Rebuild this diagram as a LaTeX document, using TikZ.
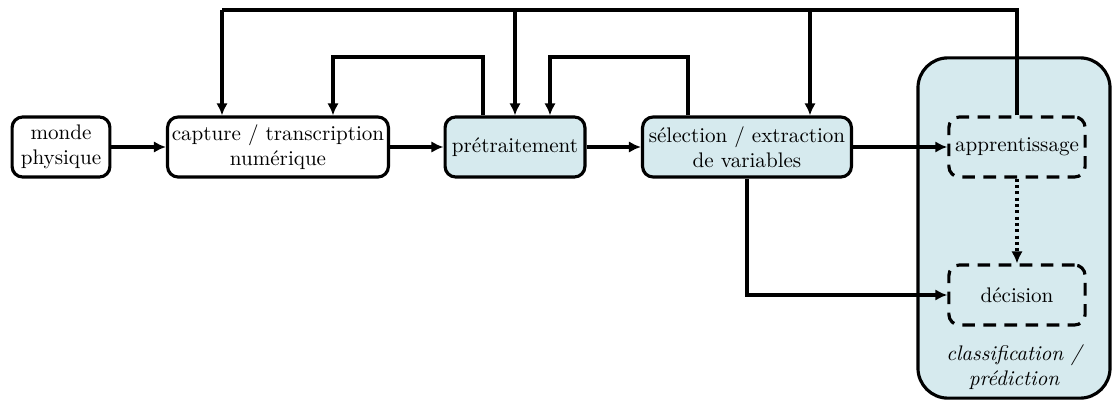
\documentclass[tikz,border=0pt]{standalone}
\usepackage{tikz}
\usetikzlibrary{arrows.meta, positioning}

\definecolor{stepblue}{RGB}{214,234,238}

\begin{document}
\begin{tikzpicture}[
    x=0.0166667cm, y=-0.0166667cm,
    box/.style={draw, line width=1.5pt, rounded corners=5pt, minimum height=1cm, align=center, inner sep=2pt, font=\normalsize},
    fbox/.style={box, fill=stepblue},
    dbox/.style={box, dash pattern=on 6pt off 4pt, minimum width=2.27cm},
    arrow/.style={-{Latex[length=2mm, width=1.9mm]}, line width=1.5pt},
    link/.style={line width=1.5pt},
    dotarrow/.style={arrow, dash pattern=on 1.5pt off 1.5pt}
]
    \useasboundingbox (0,0) rectangle (1119,405);

    % ── Bloc classification (dessiné en premier, sous le reste) ──
    \node[draw, fill=stepblue, line width=1.5pt, rounded corners=0.5cm,
          minimum width=3.2cm, minimum height=5.67cm] (clf) at (1014,228) {};
    \node[font=\itshape, align=center] (clflabel) at (1014,367) {classification /\\pr\'ediction};

    % ── Cha\^ine principale ──
    \node[box, minimum width=1.63cm] (monde) at (61,147)  {monde\\physique};
    \node[box, minimum width=3.68cm] (cap)   at (278,147) {capture / transcription\\num\'erique};
    \node[fbox, minimum width=2.33cm] (pre)  at (515,147) {pr\'etraitement};
    \node[fbox, minimum width=3.48cm] (sel)  at (747,147) {s\'election / extraction\\de variables};

    % ── Sous-blocs en pointill\'es ──
    \node[dbox] (appr) at (1017,147) {apprentissage};
    \node[dbox] (dec)  at (1017,295) {d\'ecision};

    % ── Liens directs ──
    \draw[arrow] (monde) -- (cap);
    \draw[arrow] (cap) -- (pre);
    \draw[arrow] (pre) -- (sel);
    \draw[arrow] (sel) -- (appr);
    \draw[arrow] (sel.south) |- (dec.west);
    \draw[dotarrow] (appr) -- (dec);

    % ── Petites boucles de retour ──
    \draw[arrow] (pre.north -| 483,0) |- (333,57) -- (cap.north -| 333,0);
    \draw[arrow] (sel.north -| 688,0) |- (550,57) -- (pre.north -| 550,0);

    % ── Grande boucle depuis l'apprentissage ──
    \coordinate (fbL) at (222,10);
    \draw[link] (appr.north) |- (fbL);
    \draw[arrow] (fbL) -- (cap.north -| fbL);
    \draw[arrow] (pre.north |- fbL) -- (pre.north);
    \draw[arrow] (810,10) -- (sel.north -| 810,0);

\end{tikzpicture}
\end{document}
